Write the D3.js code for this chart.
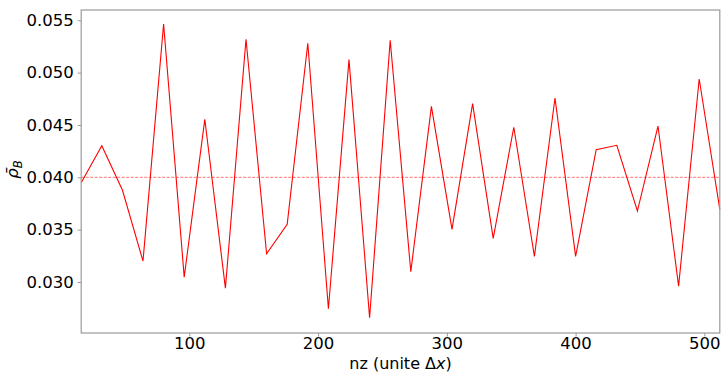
<!DOCTYPE html>
<html>
<head>
<meta charset="utf-8">
<script src="https://cdn.jsdelivr.net/npm/d3@7"></script>
<style>
  html, body { margin: 0; padding: 0; background: #fff; }
  svg { display: block; font-family: "DejaVu Sans", sans-serif; }
</style>
</head>
<body>
<svg id="chart" width="723" height="376"></svg>
<script>
const nz = [16, 32, 48, 64, 80, 96, 112, 128, 144, 160, 176, 192, 208, 224, 240, 256,
            272, 288, 304, 320, 336, 352, 368, 384, 400, 416, 432, 448, 464, 480, 496, 512];
const rhoB = [0.03948, 0.04302, 0.03879, 0.0320, 0.05465, 0.03047, 0.04554, 0.02942,
              0.05319, 0.0327, 0.03551, 0.0528, 0.02744, 0.05124, 0.02659, 0.05309,
              0.03098, 0.04678, 0.03503, 0.04703, 0.03417, 0.04478, 0.03245, 0.04758,
              0.03245, 0.04264, 0.04306, 0.03678, 0.0449, 0.02961, 0.04939, 0.03694];
const refValue = 0.040;
const xTicks = [100, 200, 300, 400, 500];
const yTicks = [0.030, 0.035, 0.040, 0.045, 0.050, 0.055];

const svg = d3.select("#chart");
const m = { left: 81.2, right: 719.8, top: 10, bottom: 333 };

const x = d3.scaleLinear().domain([16, 512]).range([m.left, m.right]);
const y = d3.scaleLinear().domain([0.02513, 0.05598]).range([m.bottom, m.top]);

const axisColor = "#9a9a9a";
const fs = "16.5px";

// reference dashed line
svg.append("line")
  .attr("x1", m.left).attr("x2", m.right)
  .attr("y1", y(refValue)).attr("y2", y(refValue))
  .attr("stroke", "#ff0000").attr("stroke-opacity", 0.7)
  .attr("stroke-width", 0.8).attr("stroke-dasharray", "3,1.5");

// data line
const line = d3.line().x((d, i) => x(nz[i])).y(d => y(d));
svg.append("path")
  .datum(rhoB)
  .attr("d", line)
  .attr("fill", "none")
  .attr("stroke", "#ff0000")
  .attr("stroke-width", 1.1)
  .attr("stroke-linejoin", "miter");

// frame
svg.append("rect")
  .attr("x", m.left).attr("y", m.top)
  .attr("width", m.right - m.left).attr("height", m.bottom - m.top)
  .attr("fill", "none").attr("stroke", axisColor).attr("stroke-width", 1.2);

// axes
const xAxis = svg.append("g")
  .attr("transform", `translate(0,${m.bottom})`)
  .call(d3.axisBottom(x).tickValues(xTicks).tickSize(3.5).tickPadding(1).tickFormat(d3.format("d")));
const yAxis = svg.append("g")
  .attr("transform", `translate(${m.left},0)`)
  .call(d3.axisLeft(y).tickValues(yTicks).tickSize(3.5).tickPadding(4).tickFormat(d3.format(".3f")));

[xAxis, yAxis].forEach(g => {
  g.select(".domain").remove();
  g.selectAll(".tick line").attr("stroke", axisColor).attr("stroke-width", 1);
  g.selectAll(".tick text")
    .attr("fill", "#000")
    .style("font-family", "'DejaVu Sans', sans-serif")
    .style("font-size", fs);
});

// x label
const xl = svg.append("text")
  .attr("x", (m.left + m.right) / 2).attr("y", 368.5)
  .attr("text-anchor", "middle")
  .style("font-size", "16px").attr("fill", "#000");
xl.append("tspan").text("nz (unite Δ");
xl.append("tspan").attr("font-style", "italic").text("x");
xl.append("tspan").text(")");

// y label
const yl = svg.append("text")
  .attr("transform", `translate(18,${(m.top + m.bottom) / 2 - 2}) rotate(-90)`)
  .attr("text-anchor", "middle")
  .style("font-size", fs).attr("fill", "#000");
yl.append("tspan").attr("font-style", "italic").text("ρ\u0304");
yl.append("tspan").attr("font-style", "italic").attr("font-size", "11.5px").attr("dy", 3.5).text("B");
</script>
</body>
</html>
